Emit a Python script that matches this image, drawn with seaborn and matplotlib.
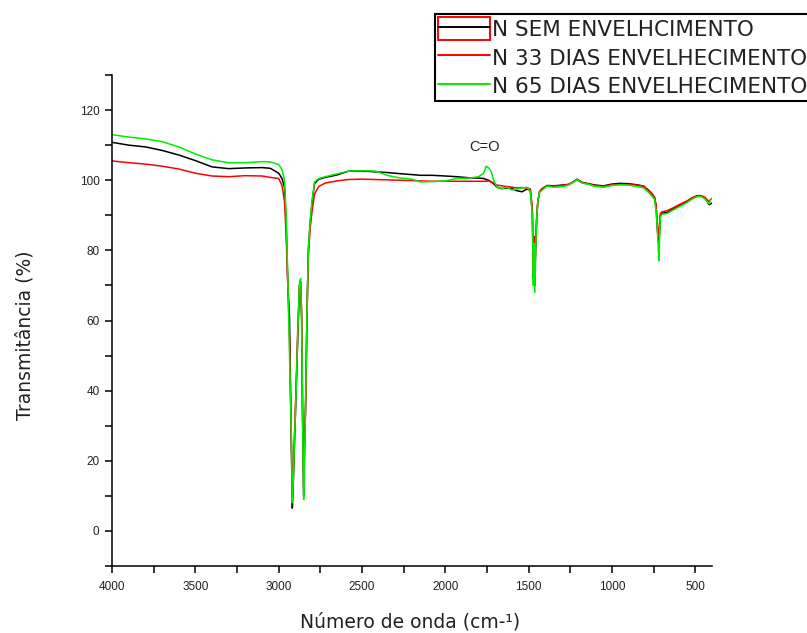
import numpy as np
import pandas as pd
import matplotlib
matplotlib.use("Agg")
import matplotlib.pyplot as plt
from matplotlib.lines import Line2D
from matplotlib.patches import Rectangle
from matplotlib.legend_handler import HandlerTuple
from matplotlib.ticker import MultipleLocator
import seaborn as sns

series_names = ["N SEM ENVELHCIMENTO", "N 33 DIAS ENVELHECIMENTO", "N 65 DIAS ENVELHECIMENTO"]
series_colors = ["#000000", "#ff0000", "#00ee00"]

wavenumber = [4000, 3900, 3800, 3700, 3600, 3500, 3400, 3300, 3200, 3100, 3050, 3000, 2980,
              2965, 2955, 2945, 2935, 2925, 2918, 2912, 2905, 2895, 2885, 2875, 2868, 2862,
              2856, 2850, 2845, 2838, 2830, 2822, 2812, 2800, 2785, 2760, 2720, 2650, 2580,
              2500, 2420, 2350, 2280, 2200, 2150, 2080, 2000, 1930, 1860, 1800, 1770, 1755,
              1740, 1725, 1710, 1690, 1660, 1630, 1600, 1570, 1540, 1510, 1490, 1478, 1472,
              1468, 1463, 1458, 1452, 1445, 1435, 1420, 1390, 1350, 1300, 1260, 1230, 1210,
              1180, 1140, 1100, 1050, 1000, 950, 900, 850, 810, 780, 760, 745, 735, 728, 722,
              718, 714, 710, 700, 670, 630, 590, 550, 520, 490, 465, 445, 430, 418, 410, 400]

t_sem = [110.8, 110.0, 109.5, 108.5, 107.2, 105.6, 103.8, 103.3, 103.5, 103.6, 103.4, 102.0, 100.5,
         98.0, 88.0, 70.0, 61.0, 28.0, 6.5, 14.0, 25.0, 40.0, 56.0, 70.0, 71.0, 60.0,
         30.0, 10.0, 22.0, 38.0, 62.0, 80.0, 87.0, 93.5, 99.0, 100.3, 100.8, 101.5, 102.6,
         102.6, 102.4, 102.2, 101.9, 101.6, 101.4, 101.4, 101.2, 101.0, 100.7, 100.6, 100.5, 100.2,
         100.0, 99.5, 99.0, 98.0, 97.6, 97.8, 97.6, 97.0, 96.7, 97.5, 97.0, 91.0, 72.0,
         83.0, 70.0, 81.0, 89.0, 94.0, 96.6, 97.5, 98.5, 98.4, 98.6, 98.8, 99.6, 100.3,
         99.4, 99.0, 98.6, 98.4, 98.9, 99.1, 99.0, 98.7, 98.3, 97.0, 96.0, 95.0, 92.0, 86.0, 83.0,
         82.0, 86.0, 90.0, 90.6, 90.8, 91.9, 92.9, 93.9, 94.9, 95.5, 95.5, 95.0, 94.0, 93.0, 93.2, 93.5]

t_33 = [105.5, 105.0, 104.6, 104.0, 103.2, 102.0, 101.2, 101.0, 101.3, 101.2, 100.8, 100.5, 98.5,
        94.0, 84.0, 70.0, 55.0, 29.0, 10.0, 17.0, 28.0, 42.0, 58.0, 70.0, 70.0, 62.0,
        32.0, 12.0, 25.0, 35.0, 62.0, 78.0, 86.0, 91.0, 96.0, 98.2, 99.2, 99.8, 100.2,
        100.3, 100.2, 100.1, 100.0, 99.9, 99.8, 99.7, 99.7, 99.7, 99.7, 99.7, 99.7, 99.7,
        99.8, 99.5, 99.2, 98.6, 98.4, 98.2, 98.0, 97.8, 97.9, 97.8, 97.5, 92.0, 74.0,
        84.0, 73.0, 82.0, 89.0, 94.0, 96.8, 97.6, 98.4, 98.3, 98.5, 98.8, 99.5, 100.2,
        99.3, 98.9, 98.5, 98.3, 98.7, 98.8, 98.8, 98.6, 98.3, 97.2, 96.2, 95.2, 93.0, 88.0, 85.0,
        84.0, 87.0, 90.5, 91.0, 91.3, 92.2, 93.2, 94.1, 95.0, 95.6, 95.6, 95.2, 94.5, 93.8, 94.5, 94.8]

t_65 = [113.0, 112.3, 111.8, 111.0, 109.5, 107.5, 105.8, 105.0, 105.0, 105.3, 105.2, 104.5, 103.0,
        100.0, 90.0, 72.0, 50.0, 30.0, 8.0, 15.0, 26.0, 40.0, 57.0, 71.0, 72.0, 60.0,
        30.0, 9.0, 20.0, 38.0, 62.0, 80.0, 88.0, 94.0, 99.5, 100.5, 101.0, 101.8, 102.6,
        102.7, 102.6, 101.4, 100.7, 100.3, 99.5, 99.6, 99.8, 100.5, 100.6, 101.0, 102.0, 104.0,
        103.5, 102.5, 100.0, 98.0, 97.6, 98.0, 97.2, 97.5, 97.8, 98.0, 96.7, 90.0, 70.0,
        82.0, 68.0, 80.0, 89.0, 94.0, 96.5, 97.1, 98.3, 98.0, 98.1, 98.6, 99.5, 100.2,
        99.2, 98.8, 98.2, 98.0, 98.5, 98.7, 98.6, 98.2, 97.8, 96.5, 95.5, 94.5, 91.0, 86.0, 80.0,
        77.0, 84.0, 89.5, 90.3, 90.5, 91.6, 92.6, 93.6, 94.6, 95.3, 95.3, 94.8, 94.0, 93.2, 94.3, 94.8]

x_ticks = [4000, 3500, 3000, 2500, 2000, 1500, 1000, 500]
y_ticks = [0, 20, 40, 60, 80, 100, 120]

df = pd.concat([
    pd.DataFrame({"wn": wavenumber, "T": vals, "serie": name})
    for name, vals in zip(series_names, [t_sem, t_33, t_65])
], ignore_index=True)

sns.set_theme(style="white")
plt.rcParams["font.family"] = ["Liberation Sans", "DejaVu Sans"]

fig = plt.figure(figsize=(8.07, 6.33), dpi=100)
ax = fig.add_axes([112 / 807, 1 - 566 / 633, 600 / 807, 491 / 633])

sns.lineplot(data=df, x="wn", y="T", hue="serie", hue_order=series_names,
             palette=series_colors, estimator=None, sort=False, legend=False,
             linewidth=1.1, ax=ax)

ax.set_xlim(4000, 400)
ax.set_ylim(-10, 130)
ax.set_xticks(x_ticks)
ax.set_yticks(y_ticks)
ax.xaxis.set_minor_locator(MultipleLocator(250))
ax.yaxis.set_minor_locator(MultipleLocator(10))
ax.tick_params(axis="both", which="both", direction="out", length=5, width=1.1,
               color="black", labelsize=8.5, labelcolor="#222222", bottom=True, left=True)
ax.tick_params(axis="x", pad=6)
ax.tick_params(axis="y", pad=4)
for s in ["top", "right"]:
    ax.spines[s].set_visible(False)
for s in ["left", "bottom"]:
    ax.spines[s].set_color("black")
    ax.spines[s].set_linewidth(1.1)

ax.set_xlabel("Número de onda (cm-¹)", fontsize=13.5, color="#222222",
              family=["DejaVu Sans"])
ax.set_ylabel("Transmitância (%)", fontsize=13.5, color="#222222",
              family=["DejaVu Sans"])
ax.xaxis.set_label_coords(0.497, -0.095)
ax.yaxis.set_label_coords(-0.13, 0.47)

ax.text(1765, 109.6, "C=O", ha="center", va="center", fontsize=10.5, color="#222222")

handles = []
for i, (name, col) in enumerate(zip(series_names, series_colors)):
    ln = Line2D([], [], color=col, linewidth=1.4)
    if i == 0:
        rect = Rectangle((0, 0), 1, 1, facecolor="none", edgecolor="red", linewidth=1.4)
        handles.append((rect, ln))
    else:
        handles.append(ln)

leg = fig.legend(handles, series_names, loc="upper left",
                 bbox_to_anchor=(435 / 807, 1 - 14 / 633),
                 handler_map={tuple: HandlerTuple(ndivide=1, pad=0)},
                 prop={"family": "DejaVu Sans", "size": 15.5},
                 frameon=True, fancybox=False, framealpha=1,
                 edgecolor="black", handlelength=2.4, handleheight=1.25,
                 handletextpad=0.1, labelspacing=0.28, borderpad=0.15,
                 borderaxespad=0)
leg.get_frame().set_linewidth(1.5)
for t in leg.get_texts():
    t.set_color("#222222")

fig.savefig("out.png", dpi=100)
